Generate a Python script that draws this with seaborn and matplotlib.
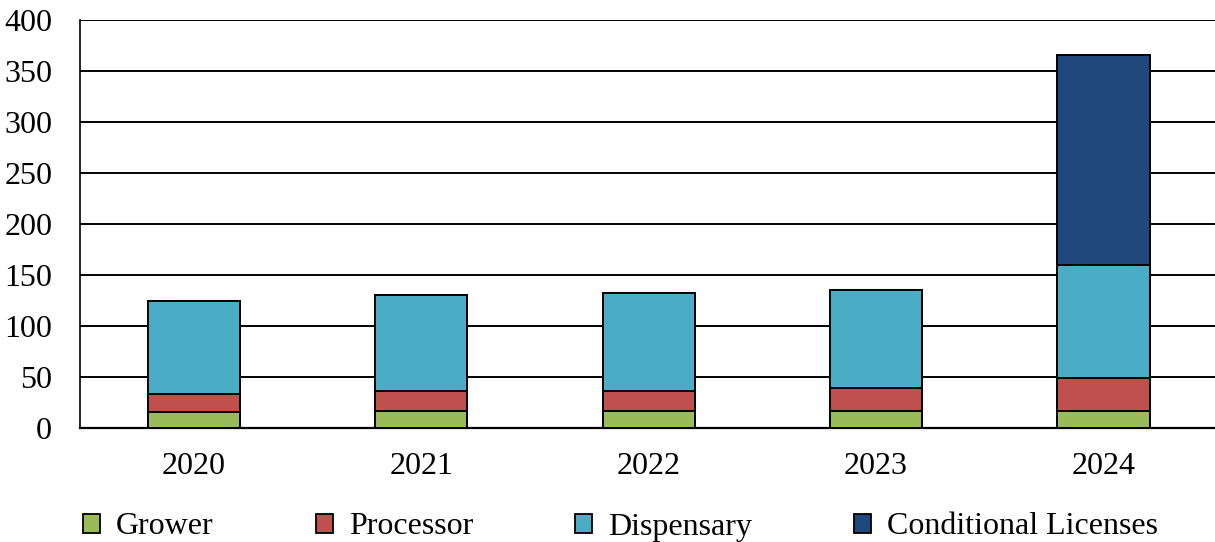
import matplotlib
matplotlib.use("Agg")
import matplotlib.pyplot as plt
import seaborn as sns
import pandas as pd
import numpy as np
from matplotlib.patches import Patch

years = ["2020", "2021", "2022", "2023", "2024"]
grower = [16, 17, 17, 17, 17]
processor = [17, 19, 19, 22, 32]
dispensary = [92, 94, 96, 96, 111]
conditional = [0, 0, 0, 0, 206]

series_names = ["Grower", "Processor", "Dispensary", "Conditional Licenses"]
series_values = [grower, processor, dispensary, conditional]
colors = ["#9BBB59", "#C0504D", "#4BACC6", "#1F497D"]

sns.set_theme(style="white")
plt.rcParams["font.family"] = ["Liberation Serif", "DejaVu Serif"]
plt.rcParams["text.color"] = "black"

FS = 23

fig = plt.figure(figsize=(12.15, 5.42), dpi=100)
ax = fig.add_axes([80 / 1215, 1 - 428 / 542, 1 - 80 / 1215, 408 / 542])

cum = np.cumsum(np.array(series_values), axis=0)
# draw from the top segment down so each lower stack sits in front
for i in range(len(series_names) - 1, -1, -1):
    df = pd.DataFrame({"year": years, "value": cum[i]})
    sns.barplot(data=df, x="year", y="value", color=colors[i], width=0.405,
                edgecolor="black", linewidth=1.4, saturation=1, ax=ax, zorder=3)

ax.set_ylim(0, 400)
ax.set_xlim(-0.5, 4.49)
ax.set_yticks(range(0, 401, 50))
ax.yaxis.grid(True, color="black", linewidth=1.4, zorder=0)
ax.set_axisbelow(True)
ax.set_xlabel("")
ax.set_ylabel("")
for s in ["top", "right"]:
    ax.spines[s].set_visible(False)
ax.spines["left"].set_color("black")
ax.spines["left"].set_linewidth(1.2)
ax.spines["bottom"].set_color("black")
ax.spines["bottom"].set_linewidth(1.6)
ax.tick_params(axis="y", labelsize=FS, length=0, pad=20, colors="black")
ax.tick_params(axis="x", labelsize=FS, length=0, pad=17, colors="black")

handles = [Patch(facecolor=c, edgecolor="black", linewidth=1.3) for c in colors]
fig.legend(handles, series_names, loc="center left", bbox_to_anchor=(83 / 1215, 1 - 527 / 542),
           ncol=4, frameon=False, fontsize=FS, handlelength=0.53, handleheight=0.53,
           handletextpad=0.5, columnspacing=3.2, borderpad=0, borderaxespad=0,
           labelcolor="black")

fig.savefig("out.png", dpi=100)
